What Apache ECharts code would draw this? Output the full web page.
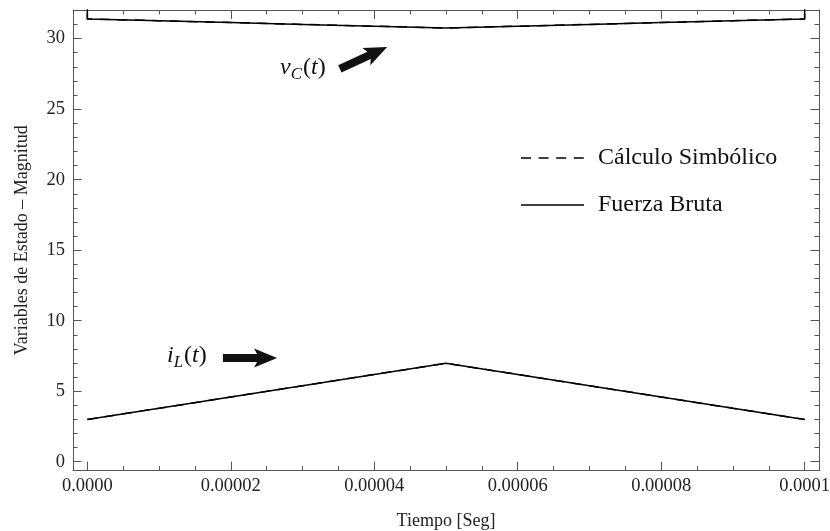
<!DOCTYPE html>
<html><head><meta charset="utf-8">
<script src="https://cdn.jsdelivr.net/npm/echarts@6/dist/echarts.min.js"></script>
<style>html,body{margin:0;padding:0;background:#fff}#c{width:830px;height:531px}</style>
</head><body><div id="c"></div>
<script>
// ---------------- data ----------------
const timeValues = [0, 0.00001, 0.00002, 0.00003, 0.00004, 0.00005, 0.00006, 0.00007, 0.00008, 0.00009, 0.0001];
const vcValues = [31.40, 31.27, 31.14, 31.01, 30.88, 30.75, 30.88, 31.01, 31.14, 31.27, 31.40];
const ilValues = [3.00, 3.79, 4.59, 5.39, 6.19, 6.98, 6.19, 5.39, 4.59, 3.79, 3.00];
const vcEdgeValue = 33; // end points lie above the visible range (clipped by the frame)
const seriesNames = ['Cálculo Simbólico', 'Fuerza Bruta'];
const xTickValues = [0, 0.00002, 0.00004, 0.00006, 0.00008, 0.0001];
const xTickLabels = ['0.0000', '0.00002', '0.00004', '0.00006', '0.00008', '0.0001'];
const xMinorTicks = [0.000005, 0.00001, 0.000015, 0.000025, 0.00003, 0.000035, 0.000045, 0.00005, 0.000055,
                     0.000065, 0.00007, 0.000075, 0.000085, 0.00009, 0.000095];
const yTickValues = [0, 5, 10, 15, 20, 25, 30];
const yTickLabels = ['0', '5', '10', '15', '20', '25', '30'];
const yMinorTicks = [1,2,3,4,6,7,8,9,11,12,13,14,16,17,18,19,21,22,23,24,26,27,28,29,31];
const xTitle = 'Tiempo [Seg]';
const yTitle = 'Variables de Estado – Magnitud';

// annotation anchors (data space)
const vcArrow = {tail: [3.52e-5, 27.85], tip: [4.18e-5, 29.41]};
const ilArrow = {tail: [1.89e-5, 7.36], tip: [2.645e-5, 7.36]};

// ---------------- chart ----------------
const FONT = '"Liberation Serif", "Times New Roman", serif';
const FRAME = '#555';
const chart = echarts.init(document.getElementById('c'), null, {renderer: 'canvas'});

const vcData = [[timeValues[0], vcEdgeValue]].concat(timeValues.map((t, i) => [t, vcValues[i]]),
  [[timeValues[timeValues.length - 1], vcEdgeValue]]);
const ilData = timeValues.map((t, i) => [t, ilValues[i]]);

function xAxisDef(pos, major, showLabel) {
  return {
    type: 'value', position: pos, min: -0.000002, max: 0.000102,
    axisLine: {show: major, onZero: false, lineStyle: {color: FRAME, width: 1}},
    axisTick: {show: true, inside: true, length: major ? 9 : 4.5, customValues: major ? xTickValues : xMinorTicks,
      lineStyle: {color: FRAME, width: 1}},
    axisLabel: {show: showLabel, customValues: xTickValues, margin: 6, fontFamily: FONT, fontSize: 18.5, color: '#222',
      formatter: v => xTickLabels[xTickValues.findIndex(u => Math.abs(u - v) < 1e-9)]},
    splitLine: {show: false},
    name: showLabel ? xTitle : '', nameLocation: 'middle', nameGap: 42,
    nameTextStyle: {fontFamily: FONT, fontSize: 18, color: '#222'}
  };
}
function yAxisDef(pos, major, showLabel) {
  return {
    type: 'value', position: pos, min: -0.628, max: 32.03,
    axisLine: {show: major, onZero: false, lineStyle: {color: FRAME, width: 1}},
    axisTick: {show: true, inside: true, length: major ? 8.5 : 4.5, customValues: major ? yTickValues : yMinorTicks,
      lineStyle: {color: FRAME, width: 1}},
    axisLabel: {show: showLabel, customValues: yTickValues, margin: 8, fontFamily: FONT, fontSize: 18.5, color: '#222',
      formatter: v => yTickLabels[yTickValues.findIndex(u => Math.abs(u - v) < 1e-9)]},
    splitLine: {show: false},
    name: showLabel ? yTitle : '', nameLocation: 'middle', nameGap: 42,
    nameTextStyle: {fontFamily: FONT, fontSize: 18, color: '#222'}
  };
}

const dashStyle = {color: '#000', width: 1.5, type: [10, 7.5]};
const solidStyle = {color: '#000', width: 1.5, type: 'solid'};
function lineSeries(name, data, style, z) {
  return {name, type: 'line', data, xAxisIndex: 0, yAxisIndex: 0, showSymbol: false, symbol: 'none',
    lineStyle: style, itemStyle: {color: '#000'}, clip: true, z, animation: false, silent: true};
}

chart.setOption({
  animation: false,
  grid: {left: 73, right: 11, top: 10, bottom: 60.4, containLabel: false, outerBoundsMode: 'none'},
  xAxis: [xAxisDef('bottom', true, true), xAxisDef('bottom', false, false),
          xAxisDef('top', true, false), xAxisDef('top', false, false)],
  yAxis: [yAxisDef('left', true, true), yAxisDef('left', false, false),
          yAxisDef('right', true, false), yAxisDef('right', false, false)],
  series: [
    lineSeries(seriesNames[0], vcData, dashStyle, 2),
    lineSeries(seriesNames[0], ilData, dashStyle, 2),
    lineSeries(seriesNames[1], vcData, solidStyle, 3),
    lineSeries(seriesNames[1], ilData, solidStyle, 3)
  ]
});

// ---------------- annotations & legend ----------------
function px(p) { return chart.convertToPixel({xAxisIndex: 0, yAxisIndex: 0}, p); }
function arrowPolygon(a) {
  const t0 = px(a.tail), t1 = px(a.tip);
  const dx = t1[0] - t0[0], dy = t1[1] - t0[1], L = Math.hypot(dx, dy);
  const d = [dx / L, dy / L], n = [-d[1], d[0]];
  const w = 4, hw = 9.5, hl = 23, notch = 3;
  const b = [t1[0] - d[0] * hl, t1[1] - d[1] * hl];
  const P = (p, s, m) => [p[0] + n[0] * s + d[0] * m, p[1] + n[1] * s + d[1] * m];
  return [P(t0, w, 0), P(b, w, notch), P(b, hw, 0), t1, P(b, -hw, 0), P(b, -w, notch), P(t0, -w, 0)];
}
const measureCtx = document.createElement('canvas').getContext('2d');
function fontStr(tok) { return (tok.italic ? 'italic ' : '') + tok.size + 'px ' + FONT; }
function mathLabel(x, baseline, tokens) {
  const els = [];
  let cx = x;
  tokens.forEach(tok => {
    measureCtx.font = fontStr(tok);
    const w = measureCtx.measureText(tok.text).width;
    els.push({type: 'text', silent: true, z: 10, style: {text: tok.text, x: cx, y: baseline + (tok.dy || 0) - 0.33 * tok.size,
      font: fontStr(tok), fill: '#111', verticalAlign: 'middle', align: 'left'}});
    cx += w + (tok.kern || 0);
  });
  return els;
}
function legendItem(y, name, dash) {
  return [
    {type: 'line', silent: true, z: 10, shape: {x1: 521, y1: y, x2: 584, y2: y},
      style: {stroke: '#000', lineWidth: 1.3, lineDash: dash ? [10, 7.6] : null}},
    {type: 'text', silent: true, z: 10, style: {text: name, x: 598, y: y, font: '24px ' + FONT, fill: '#111',
      verticalAlign: 'middle', align: 'left'}}
  ];
}
const graphics = [
  {type: 'polygon', silent: true, z: 10, shape: {points: arrowPolygon(vcArrow)}, style: {fill: '#111'}},
  {type: 'polygon', silent: true, z: 10, shape: {points: arrowPolygon(ilArrow)}, style: {fill: '#111'}}
].concat(
  mathLabel(280, 76, [{text: 'v', size: 24, italic: true}, {text: 'C', size: 17, italic: true, dy: 4, kern: 1},
    {text: '(', size: 24}, {text: 't', size: 24, italic: true}, {text: ')', size: 24}]),
  mathLabel(167, 364, [{text: 'i', size: 24, italic: true}, {text: 'L', size: 17, italic: true, dy: 4, kern: 1},
    {text: '(', size: 24}, {text: 't', size: 24, italic: true}, {text: ')', size: 24}]),
  legendItem(158, seriesNames[0], true),
  legendItem(205, seriesNames[1], false)
);
chart.setOption({graphic: graphics});
</script></body></html>
